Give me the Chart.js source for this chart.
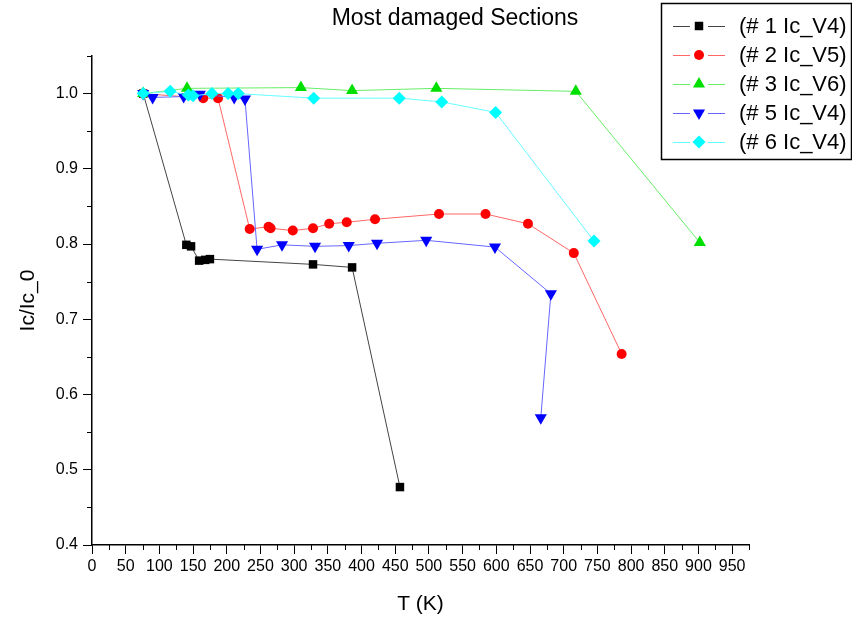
<!DOCTYPE html>
<html>
<head>
<meta charset="utf-8">
<script src="https://cdn.jsdelivr.net/npm/chart.js@4"></script>
<style>
  body { margin: 0; background: #fff; }
  #wrap { width: 852px; height: 617px; position: relative; }
</style>
</head>
<body>
<div id="wrap"><canvas id="icChart"></canvas></div>
<script>
// Data: temperature (K) and Ic/Ic_0 for each section
const seriesNames = ["(# 1 Ic_V4)", "(# 2 Ic_V5)", "(# 3 Ic_V6)", "(# 5 Ic_V4)", "(# 6 Ic_V4)"];

const t1 = [76, 140, 147, 159, 168, 175, 328, 386, 457];
const r1 = [1.0, 0.799, 0.797, 0.778, 0.779, 0.780, 0.773, 0.769, 0.477];

const t2 = [76, 165, 187, 234, 262, 265, 298, 328, 352, 378, 420, 515, 584, 647, 715, 786];
const r2 = [1.0, 0.994, 0.994, 0.820, 0.823, 0.821, 0.818, 0.821, 0.827, 0.829, 0.833, 0.840, 0.840, 0.827, 0.788, 0.654];

const t3 = [76, 141, 310, 386, 511, 718, 902];
const r3 = [1.0, 1.007, 1.008, 1.004, 1.007, 1.003, 0.802];

const t5 = [76, 90, 136, 160, 211, 227, 245, 282, 331, 381, 423, 496, 598, 681, 666];
const r5 = [1.0, 0.995, 0.996, 0.999, 0.995, 0.993, 0.793, 0.799, 0.797, 0.798, 0.801, 0.805, 0.796, 0.734, 0.569];

const t6 = [76, 116, 143, 150, 178, 202, 217, 329, 456, 519, 599, 745];
const r6 = [1.0, 1.003, 0.998, 0.997, 1.0, 1.0, 1.0, 0.994, 0.994, 0.989, 0.975, 0.804];

const xTicks = { min: 0, max: 975, step: 50 };
const yTicks = { min: 0.4, max: 1.05, step: 0.1 };

// Styles per series
const colors = ["#000000", "#ff0000", "#00e000", "#0000ff", "#00ffff"];
const lineColors = ["#444444", "#ff6666", "#66ee66", "#6666ff", "#66ffff"];
const styles = ["rect", "circle", "triangle", "triangle", "rectRot"];
const rotations = [0, 0, 0, 180, 0];
const radii = [6, 5, 7, 7, 6.5];

const FONT = "'Liberation Sans', Arial, sans-serif";

function toPoints(xs, ys) {
  return xs.map((x, i) => ({ x: x, y: ys[i] }));
}

const allT = [t1, t2, t3, t5, t6];
const allR = [r1, r2, r3, r5, r6];

const datasets = seriesNames.map((name, i) => ({
  label: name,
  data: toPoints(allT[i], allR[i]),
  borderColor: lineColors[i],
  backgroundColor: colors[i],
  borderWidth: 1,
  pointStyle: styles[i],
  pointRotation: rotations[i],
  pointRadius: radii[i],
  pointBorderWidth: 0,
  pointBorderColor: colors[i],
  pointBackgroundColor: colors[i],
  tension: 0,
  order: 5 - i, // later series painted on top, like the original
}));

// draw one marker by hand (used in legend)
function drawMarker(ctx, style, x, y, r, rot) {
  ctx.beginPath();
  if (style === "rect") {
    const s = r * Math.SQRT1_2;
    ctx.rect(x - s, y - s, 2 * s, 2 * s);
  } else if (style === "circle") {
    ctx.arc(x, y, r, 0, Math.PI * 2);
  } else if (style === "triangle") {
    const a = (rot || 0) * Math.PI / 180;
    for (let k = 0; k < 3; k++) {
      const ang = a - Math.PI / 2 + k * 2 * Math.PI / 3;
      const px = x + r * Math.cos(ang), py = y + r * Math.sin(ang);
      if (k === 0) ctx.moveTo(px, py); else ctx.lineTo(px, py);
    }
    ctx.closePath();
  } else if (style === "rectRot") {
    ctx.moveTo(x, y - r);
    ctx.lineTo(x + r, y);
    ctx.lineTo(x, y + r);
    ctx.lineTo(x - r, y);
    ctx.closePath();
  }
  ctx.fill();
}

// title, legend box and minor ticks
const decorPlugin = {
  id: "decor",
  afterDraw(chart) {
    const ctx = chart.ctx;
    const xs = chart.scales.x, ys = chart.scales.y;
    ctx.save();

    // minor ticks
    ctx.strokeStyle = "#000";
    ctx.lineWidth = 1;
    ctx.beginPath();
    for (let v = xTicks.min + xTicks.step / 2; v <= xTicks.max + 0.01; v += xTicks.step) {
      const px = Math.round(xs.getPixelForValue(v)) + 0.5;
      ctx.moveTo(px, ys.bottom);
      ctx.lineTo(px, ys.bottom + 5);
    }
    for (let v = yTicks.min + yTicks.step / 2; v <= yTicks.max + 0.001; v += yTicks.step) {
      const py = Math.round(ys.getPixelForValue(v)) + 0.5;
      ctx.moveTo(xs.left - 5, py);
      ctx.lineTo(xs.left, py);
    }
    ctx.stroke();

    // title
    ctx.fillStyle = "#000";
    ctx.font = "23px " + FONT;
    ctx.textAlign = "center";
    ctx.textBaseline = "middle";
    ctx.fillText("Most damaged Sections", 455, 19);

    // legend
    ctx.lineWidth = 1.5;
    ctx.strokeRect(661.5, 3.5, 190, 156);
    const rowY = [26, 55, 84, 113, 142];
    ctx.font = "22px " + FONT;
    ctx.textAlign = "left";
    seriesNames.forEach((name, i) => {
      const y = rowY[i];
      ctx.strokeStyle = lineColors[i];
      ctx.lineWidth = 1;
      ctx.beginPath();
      ctx.moveTo(673, y + 0.5);
      ctx.lineTo(690, y + 0.5);
      ctx.moveTo(708, y + 0.5);
      ctx.lineTo(725, y + 0.5);
      ctx.stroke();
      ctx.fillStyle = colors[i];
      drawMarker(ctx, styles[i], 699, y, radii[i], rotations[i]);
      ctx.fillStyle = "#000";
      ctx.fillText(name, 739, y + 1);
    });
    ctx.restore();
  },
};

const ctx = document.getElementById("icChart").getContext("2d");
const icChart = new Chart(ctx, {
  type: "line",
  data: { datasets: datasets },
  plugins: [decorPlugin],
  options: {
    responsive: true,
    maintainAspectRatio: false,
    animation: false,
    layout: { padding: { left: 0, right: 103, top: 56, bottom: 0 } },
    plugins: {
      legend: { display: false },
      title: { display: false },
      tooltip: { enabled: false },
    },
    scales: {
      x: {
        type: "linear",
        min: xTicks.min,
        max: xTicks.max,
        afterFit: (s) => { s.height = 72; },
        border: { color: "#000", width: 1.5 },
        grid: { display: true, drawOnChartArea: false, tickLength: 9, tickColor: "#000" },
        ticks: {
          stepSize: xTicks.step,
          includeBounds: false,
          autoSkip: false,
          maxRotation: 0,
          padding: 3,
          color: "#000",
          font: { family: FONT, size: 16 },
          callback: (v) => v,
        },
        title: {
          display: true,
          text: "T (K)",
          color: "#000",
          font: { family: FONT, size: 21 },
          padding: { top: 0, bottom: 0 },
        },
      },
      y: {
        type: "linear",
        min: yTicks.min,
        max: yTicks.max,
        afterFit: (s) => { s.width = 92; },
        border: { color: "#000", width: 1.5 },
        grid: { display: true, drawOnChartArea: false, tickLength: 9, tickColor: "#000" },
        ticks: {
          stepSize: yTicks.step,
          includeBounds: false,
          padding: 5,
          color: "#000",
          font: { family: FONT, size: 16 },
          callback: (v) => Number(v).toFixed(1),
        },
        title: {
          display: true,
          text: "Ic/Ic_0",
          color: "#000",
          font: { family: FONT, size: 21 },
          padding: { top: 16, bottom: 0 },
        },
      },
    },
  },
});
</script>
</body>
</html>
